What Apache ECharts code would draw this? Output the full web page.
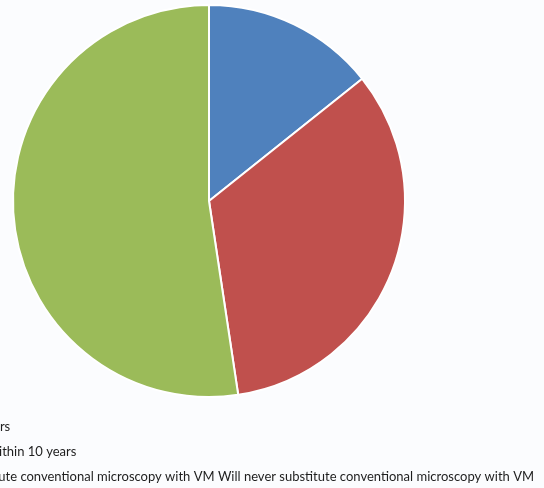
<!DOCTYPE html>
<html>
<head>
<meta charset="utf-8">
<script src="https://cdn.jsdelivr.net/npm/echarts@6/dist/echarts.min.js"></script>
<style>
html,body{margin:0;padding:0;background:#fbfcfe;}
#chart{width:544px;height:488px;}
</style>
</head>
<body>
<div id="chart"></div>
<script>
var categories = [
  "Up to 5 years",
  "Replaced within 10 years",
  "Will substitute conventional microscopy with VM Will never substitute conventional microscopy with VM"
];
var values = [3, 7, 11];
var colors = ["#4f81bd", "#c0504d", "#9bbb59"];

var FONT = "Lato";
var FS = 13;
var ctx = document.createElement("canvas").getContext("2d");
ctx.font = FS + "px " + FONT;
var maxW = 0;
categories.forEach(function (c) { maxW = Math.max(maxW, ctx.measureText(c).width); });
var legendLeft = 533 - maxW - 5 - 10;

var chart = echarts.init(document.getElementById("chart"), null, {renderer: "canvas"});
chart.setOption({
  backgroundColor: "#fbfcfe",
  animation: false,
  color: colors,
  legend: {
    orient: "vertical",
    left: legendLeft,
    top: 420,
    padding: 0,
    itemWidth: 10,
    itemHeight: 10,
    itemGap: 12,
    icon: "rect",
    textStyle: {fontFamily: FONT, fontSize: FS, color: "#1e1e1e"},
    data: categories
  },
  series: [{
    type: "pie",
    center: [209, 201],
    radius: 196,
    startAngle: 90,
    clockwise: true,
    label: {show: false},
    labelLine: {show: false},
    itemStyle: {borderColor: "#ffffff", borderWidth: 2},
    emphasis: {disabled: true},
    data: categories.map(function (c, i) { return {name: c, value: values[i]}; })
  }]
});
</script>
</body>
</html>
